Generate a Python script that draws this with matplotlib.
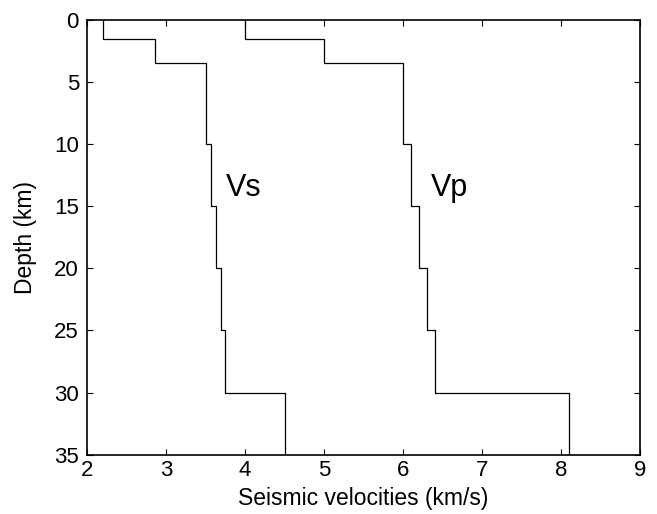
import matplotlib.pyplot as plt
import numpy as np

plt.rcParams['font.family'] = ['Liberation Sans', 'DejaVu Sans']

# layer boundaries (km) and velocities (km/s)
depths = [0, 1.5, 3.5, 10, 15, 20, 25, 30, 35]
vs = [2.2, 2.86, 3.5, 3.57, 3.63, 3.69, 3.75, 4.5]
vp = [4.0, 5.0, 6.0, 6.1, 6.2, 6.3, 6.4, 8.1]


def step_profile(vel, z):
    # each layer -> vertical segment at its velocity
    x = np.repeat(vel, 2)
    y = np.column_stack([z[:-1], z[1:]]).ravel()
    return x, y


fig = plt.figure(figsize=(6.57, 5.14), dpi=100)
ax = fig.add_axes([0.1329, 0.1154, 0.9737 - 0.1329, 0.9611 - 0.1154])

for vel in (vs, vp):
    x, y = step_profile(vel, depths)
    ax.plot(x, y, color='black', lw=0.9)

ax.text(3.75, 13.5, 'Vs', fontsize=22, va='center', ha='left')
ax.text(6.35, 13.5, 'Vp', fontsize=22, va='center', ha='left')

ax.set_xlim(2, 9)
ax.set_ylim(35, 0)
ax.set_xticks(range(2, 10))
ax.set_yticks(range(0, 36, 5))
ax.tick_params(direction='in', length=4, width=0.8, labelsize=16,
               top=True, right=True)
ax.tick_params(axis='x', pad=4)
ax.tick_params(axis='y', pad=6)
for s in ax.spines.values():
    s.set_linewidth(1.2)

ax.set_xlabel('Seismic velocities (km/s)', fontsize=16.5, labelpad=4)
ax.set_ylabel('Depth (km)', fontsize=16.5, labelpad=12)

fig.savefig('out.png', dpi=100)
